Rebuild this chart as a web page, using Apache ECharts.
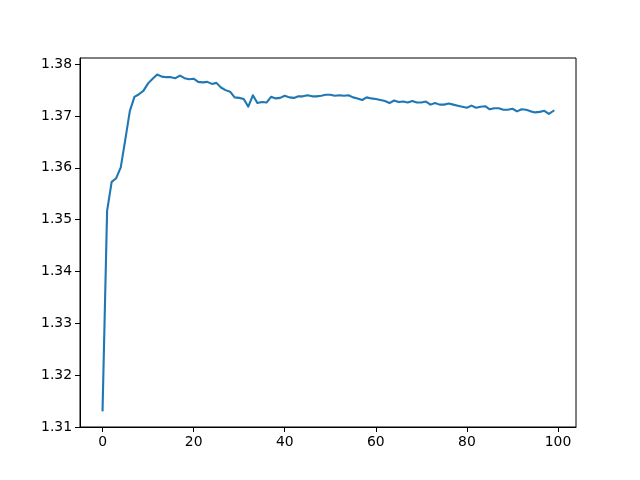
<!DOCTYPE html>
<html>
<head>
<meta charset="utf-8">
<script src="https://cdn.jsdelivr.net/npm/echarts@6/dist/echarts.min.js"></script>
<style>html,body{margin:0;padding:0;background:#fff}#c{width:640px;height:480px}</style>
</head>
<body>
<div id="c"></div>
<script>
var values = [
1.3132,1.3517,1.3573,1.3580,1.3601,1.3655,1.3710,1.3737,1.3742,1.3749,
1.3763,1.3772,1.3780,1.3776,1.3775,1.3775,1.3773,1.3778,1.3773,1.3771,
1.3772,1.3766,1.3765,1.3766,1.3762,1.3764,1.3755,1.3750,1.3747,1.3736,
1.3735,1.3733,1.3718,1.3740,1.3725,1.3727,1.3726,1.3737,1.3734,1.3735,
1.3739,1.3736,1.3735,1.3738,1.3738,1.3740,1.3738,1.3738,1.3739,1.3741,
1.3741,1.3739,1.3740,1.3739,1.3740,1.3736,1.3734,1.3731,1.3736,1.3734,
1.3733,1.3731,1.3729,1.3725,1.3730,1.3727,1.3728,1.3726,1.3729,1.3726,
1.3726,1.3728,1.3722,1.3725,1.3722,1.3722,1.3724,1.3722,1.3720,1.3718,
1.3716,1.3720,1.3716,1.3718,1.3719,1.3713,1.3715,1.3715,1.3712,1.3712,
1.3714,1.3709,1.3713,1.3712,1.3709,1.3707,1.3708,1.3710,1.3704,1.3710
];
var xTicks = [0, 20, 40, 60, 80, 100];
var yTicks = [1.31, 1.32, 1.33, 1.34, 1.35, 1.36, 1.37, 1.38];

var data = values.map(function (v, i) { return [i, v]; });
var font = 'DejaVu Sans';
var chart = echarts.init(document.getElementById('c'), null, {renderer: 'canvas'});
chart.setOption({
  animation: false,
  backgroundColor: '#fff',
  grid: {left: 80, right: 64, top: 58, bottom: 53, show: true, borderColor: '#000', borderWidth: 1, backgroundColor: 'transparent'},
  xAxis: {
    type: 'value', min: -4.95, max: 103.95,
    splitLine: {show: false},
    axisLine: {show: true, onZero: false, lineStyle: {color: '#000', width: 1}},
    axisTick: {show: true, length: 5, lineStyle: {color: '#000', width: 1}, customValues: xTicks},
    axisLabel: {color: '#000', fontFamily: font, fontSize: 13.9, margin: 8, customValues: xTicks,
      formatter: function (v) { return String(Math.round(v)); }}
  },
  yAxis: {
    type: 'value', min: 1.30998, max: 1.3812,
    splitLine: {show: false},
    axisLine: {show: true, onZero: false, lineStyle: {color: '#000', width: 1}},
    axisTick: {show: true, length: 5, lineStyle: {color: '#000', width: 1}, customValues: yTicks},
    axisLabel: {color: '#000', fontFamily: font, fontSize: 13.9, margin: 8, customValues: yTicks,
      formatter: function (v) { return v.toFixed(2); }}
  },
  series: [{
    type: 'line', data: data, showSymbol: false, symbol: 'none',
    lineStyle: {color: '#1f77b4', width: 2.1, join: 'round', cap: 'square'},
    clip: true
  }]
});
</script>
</body>
</html>
